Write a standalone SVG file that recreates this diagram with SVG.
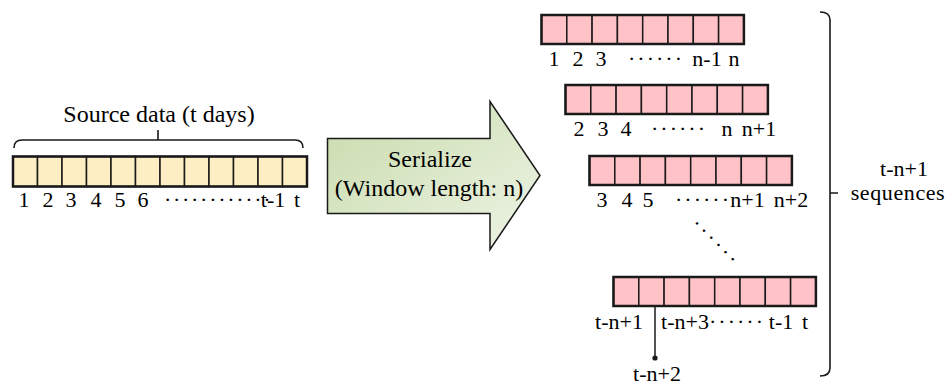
<svg xmlns="http://www.w3.org/2000/svg" width="949" height="385" viewBox="0 0 949 385">
  <defs>
    <linearGradient id="arrowFill" x1="0" y1="0" x2="1" y2="1">
      <stop offset="0" stop-color="#c8dbab"/>
      <stop offset="1" stop-color="#eef4e6"/>
    </linearGradient>
    <!-- one cell of the source bar and of a sequence bar -->
    <rect id="srcCell" width="24.5" height="30" fill="#fdeec4" stroke="#1a1a1a" stroke-width="1.5"/>
    <rect id="seqCell" width="25.3" height="29" fill="#ffc2c7" stroke="#1a1a1a" stroke-width="1.5"/>
  </defs>

  <!-- source data bar, 12 days -->
  <g id="source">
    <text font-family="Liberation Serif, serif" font-size="24" text-anchor="middle" x="159" y="122">Source data (t days)</text>
    <path fill="none" stroke="#1a1a1a" stroke-width="1.6" d="M14,148 Q14,140 22,140 L295,140 Q303,140 303,148 M158,140 L158,130"/>
    <use href="#srcCell" x="13" y="156.5"/>
    <use href="#srcCell" x="37.5" y="156.5"/>
    <use href="#srcCell" x="62" y="156.5"/>
    <use href="#srcCell" x="86.5" y="156.5"/>
    <use href="#srcCell" x="111" y="156.5"/>
    <use href="#srcCell" x="135.5" y="156.5"/>
    <use href="#srcCell" x="160" y="156.5"/>
    <use href="#srcCell" x="184.5" y="156.5"/>
    <use href="#srcCell" x="209" y="156.5"/>
    <use href="#srcCell" x="233.5" y="156.5"/>
    <use href="#srcCell" x="258" y="156.5"/>
    <use href="#srcCell" x="282.5" y="156.5"/>
    <rect fill="none" stroke="#1a1a1a" stroke-width="2.5" x="13" y="156.5" width="294" height="30"/>
    <text font-family="Liberation Serif, serif" font-size="22" text-anchor="middle" x="24" y="207">1</text>
    <text font-family="Liberation Serif, serif" font-size="22" text-anchor="middle" x="48" y="207">2</text>
    <text font-family="Liberation Serif, serif" font-size="22" text-anchor="middle" x="71" y="207">3</text>
    <text font-family="Liberation Serif, serif" font-size="22" text-anchor="middle" x="96" y="207">4</text>
    <text font-family="Liberation Serif, serif" font-size="22" text-anchor="middle" x="120" y="207">5</text>
    <text font-family="Liberation Serif, serif" font-size="22" text-anchor="middle" x="143" y="207">6</text>
    <text font-family="Liberation Serif, serif" font-size="22" letter-spacing="1.7" x="164" y="207">············</text>
    <text font-family="Liberation Serif, serif" font-size="22" text-anchor="middle" x="273" y="207">t-1</text>
    <text font-family="Liberation Serif, serif" font-size="22" text-anchor="middle" x="297" y="207">t</text>
  </g>

  <!-- serialize arrow -->
  <g id="serialize">
    <path d="M327.5,138.5 L490,138.5 L490,101.5 L540,175.5 L490,249.5 L490,213.5 L327.5,213.5 Z" fill="url(#arrowFill)" stroke="#1a1a1a" stroke-width="1.5"/>
    <text font-family="Liberation Serif, serif" font-size="24" text-anchor="middle" x="430" y="167">Serialize</text>
    <text font-family="Liberation Serif, serif" font-size="24" text-anchor="middle" x="429" y="196">(Window length: n)</text>
  </g>

  <!-- sequence 1 -->
  <g id="seq1">
    <use href="#seqCell" x="541.5" y="15"/>
    <use href="#seqCell" x="566.8" y="15"/>
    <use href="#seqCell" x="592.1" y="15"/>
    <use href="#seqCell" x="617.4" y="15"/>
    <use href="#seqCell" x="642.7" y="15"/>
    <use href="#seqCell" x="668" y="15"/>
    <use href="#seqCell" x="693.3" y="15"/>
    <use href="#seqCell" x="718.6" y="15"/>
    <rect fill="none" stroke="#1a1a1a" stroke-width="2.5" x="541.5" y="15" width="202.4" height="29"/>
    <text font-family="Liberation Serif, serif" font-size="22" text-anchor="middle" x="554" y="66">1</text>
    <text font-family="Liberation Serif, serif" font-size="22" text-anchor="middle" x="578" y="66">2</text>
    <text font-family="Liberation Serif, serif" font-size="22" text-anchor="middle" x="601" y="66">3</text>
    <text font-family="Liberation Serif, serif" font-size="22" letter-spacing="2" x="628" y="66">······</text>
    <text font-family="Liberation Serif, serif" font-size="22" text-anchor="middle" x="707" y="66">n-1</text>
    <text font-family="Liberation Serif, serif" font-size="22" text-anchor="middle" x="734" y="66">n</text>
  </g>

  <!-- sequence 2 -->
  <g id="seq2">
    <use href="#seqCell" x="565.5" y="85"/>
    <use href="#seqCell" x="590.8" y="85"/>
    <use href="#seqCell" x="616.1" y="85"/>
    <use href="#seqCell" x="641.4" y="85"/>
    <use href="#seqCell" x="666.7" y="85"/>
    <use href="#seqCell" x="692" y="85"/>
    <use href="#seqCell" x="717.3" y="85"/>
    <use href="#seqCell" x="742.6" y="85"/>
    <rect fill="none" stroke="#1a1a1a" stroke-width="2.5" x="565.5" y="85" width="202.4" height="29"/>
    <text font-family="Liberation Serif, serif" font-size="22" text-anchor="middle" x="579" y="136">2</text>
    <text font-family="Liberation Serif, serif" font-size="22" text-anchor="middle" x="603" y="136">3</text>
    <text font-family="Liberation Serif, serif" font-size="22" text-anchor="middle" x="626" y="136">4</text>
    <text font-family="Liberation Serif, serif" font-size="22" letter-spacing="2" x="651" y="136">······</text>
    <text font-family="Liberation Serif, serif" font-size="22" text-anchor="middle" x="727" y="136">n</text>
    <text font-family="Liberation Serif, serif" font-size="22" text-anchor="middle" x="759" y="136">n+1</text>
  </g>

  <!-- sequence 3 -->
  <g id="seq3">
    <use href="#seqCell" x="589.5" y="156"/>
    <use href="#seqCell" x="614.8" y="156"/>
    <use href="#seqCell" x="640.1" y="156"/>
    <use href="#seqCell" x="665.4" y="156"/>
    <use href="#seqCell" x="690.7" y="156"/>
    <use href="#seqCell" x="716" y="156"/>
    <use href="#seqCell" x="741.3" y="156"/>
    <use href="#seqCell" x="766.6" y="156"/>
    <rect fill="none" stroke="#1a1a1a" stroke-width="2.5" x="589.5" y="156" width="202.4" height="29"/>
    <text font-family="Liberation Serif, serif" font-size="22" text-anchor="middle" x="602" y="207">3</text>
    <text font-family="Liberation Serif, serif" font-size="22" text-anchor="middle" x="627" y="207">4</text>
    <text font-family="Liberation Serif, serif" font-size="22" text-anchor="middle" x="648" y="207">5</text>
    <text font-family="Liberation Serif, serif" font-size="22" letter-spacing="2" x="675" y="207">······</text>
    <text font-family="Liberation Serif, serif" font-size="22" text-anchor="middle" x="747.5" y="207">n+1</text>
    <text font-family="Liberation Serif, serif" font-size="22" text-anchor="middle" x="791" y="207">n+2</text>
  </g>

  <!-- vertical ellipsis between sequences -->
  <g id="more">
    <text font-family="Liberation Serif, serif" font-size="22" letter-spacing="2.8" transform="translate(695,224) rotate(45)" x="-2.7" y="5.5">······</text>
  </g>

  <!-- last sequence -->
  <g id="seqLast">
    <use href="#seqCell" x="613.5" y="277"/>
    <use href="#seqCell" x="638.8" y="277"/>
    <use href="#seqCell" x="664.1" y="277"/>
    <use href="#seqCell" x="689.4" y="277"/>
    <use href="#seqCell" x="714.7" y="277"/>
    <use href="#seqCell" x="740" y="277"/>
    <use href="#seqCell" x="765.3" y="277"/>
    <use href="#seqCell" x="790.6" y="277"/>
    <rect fill="none" stroke="#1a1a1a" stroke-width="2.5" x="613.5" y="277" width="202.4" height="29"/>
    <text font-family="Liberation Serif, serif" font-size="22" text-anchor="middle" x="619" y="329">t-n+1</text>
    <text font-family="Liberation Serif, serif" font-size="22" text-anchor="middle" x="685" y="329">t-n+3</text>
    <text font-family="Liberation Serif, serif" font-size="22" letter-spacing="2" x="709" y="329">······</text>
    <text font-family="Liberation Serif, serif" font-size="22" text-anchor="middle" x="781" y="329">t-1</text>
    <text font-family="Liberation Serif, serif" font-size="22" text-anchor="middle" x="805" y="329">t</text>
    <text font-family="Liberation Serif, serif" font-size="22" text-anchor="middle" x="657" y="381">t-n+2</text>
  </g>

  <!-- connectors -->
  <g id="connectors">
    <line x1="655" y1="306" x2="655" y2="358" stroke="#1a1a1a" stroke-width="1.5"/>
    <circle cx="655" cy="358" r="2.6" fill="#1a1a1a"/>
  </g>

  <!-- right brace grouping the sequences -->
  <g id="count">
    <path fill="none" stroke="#1a1a1a" stroke-width="1.6" d="M820,12 Q830,12 830,20 L830,368 Q830,376 820,376 M830,193 L838,193"/>
    <text font-family="Liberation Serif, serif" font-size="22" text-anchor="middle" x="904" y="176">t-n+1</text>
    <text font-family="Liberation Serif, serif" font-size="22" letter-spacing="0.6" text-anchor="middle" x="898" y="200">sequences</text>
  </g>
</svg>
